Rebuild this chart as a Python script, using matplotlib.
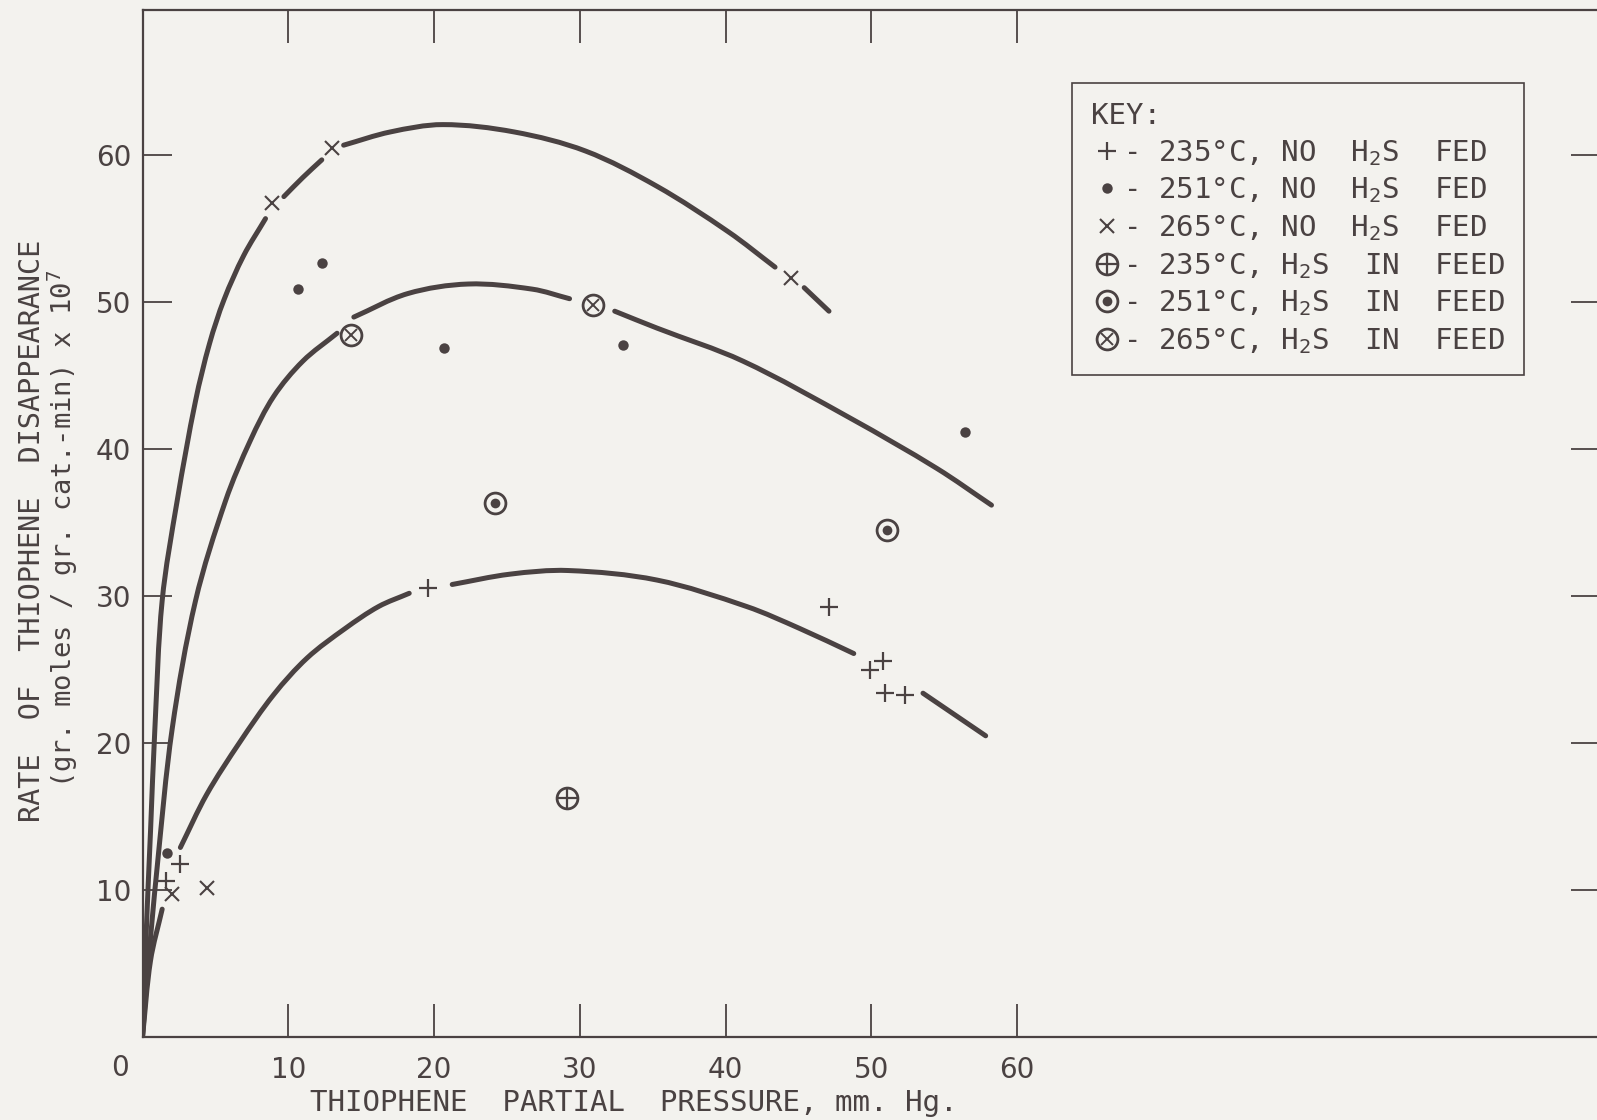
import numpy as np
import matplotlib
matplotlib.use('Agg')
import matplotlib.pyplot as plt
from matplotlib.lines import Line2D
from matplotlib.path import Path
from matplotlib.patches import PathPatch

ink = '#4a4242'
paper = '#f3f2ee'

# measured rates (x 10^7) against thiophene partial pressure, mm Hg
plus_x = [1.58, 2.6, 19.56, 47.1, 49.9, 50.8, 50.95, 52.3]
plus_y = [10.6, 11.8, 30.57, 29.3, 25.0, 25.6, 23.4, 23.3]
dot_x = [1.69, 10.7, 12.3, 20.7, 33.0, 56.4]
dot_y = [12.5, 50.9, 52.7, 46.9, 47.1, 41.2]
cross_x = [2.04, 4.44, 8.9, 13.0, 44.5]
cross_y = [9.7, 10.15, 56.75, 60.5, 51.65]
oplus_x = [29.1]
oplus_y = [16.3]
odot_x = [24.2, 51.1]
odot_y = [36.35, 34.5]
otimes_x = [14.3, 30.9]
otimes_y = [47.75, 49.8]

# hand-drawn curves; None where the pen lifts around a point
top_x = [0, 0.25, 0.55, 0.85, 1.35, 2.38, 3.64, 4.6, 5.6, 6.95, 8.44, None,
         9.7, 11.0, 12.3, None,
         13.8, 17.0, 20.6, 25.5, 30.4, 35.3, 40.2, 43.4, None,
         45.4, 47.1]
top_y = [0, 7.0, 14.0, 21.0, 29.7, 36.5, 43.3, 47.2, 50.2, 53.2, 55.7, None,
         57.2, 58.5, 59.7, None,
         60.7, 61.6, 62.1, 61.6, 60.3, 57.9, 54.8, 52.4, None,
         51.0, 49.4]
mid_x = [0, 0.35, 1.0, 2.04, 3.64, 5.7, 7.4, 9.0, 11.0, 13.35, None,
         14.5, 18.2, 22.35, 26.75, 29.3, None,
         32.4, 35.3, 41.2, 48.6, 54.5, 58.25]
mid_y = [0, 4.5, 11.5, 21.0, 29.7, 36.5, 40.6, 43.6, 46.0, 47.9, None,
         49.0, 50.6, 51.25, 50.9, 50.25, None,
         49.4, 48.25, 46.0, 42.1, 38.7, 36.2]
low_x = [0, 0.55, 1.35, None,
         2.6, 4.4, 6.7, 9.0, 11.3, 13.9, 16.2, 18.3, None,
         21.25, 25.2, 29.2, 35.3, 41.45, 45.1, 48.8, None,
         53.55, 57.85]
low_y = [0, 5.2, 8.7, None,
         12.9, 16.5, 20.1, 23.3, 25.8, 27.8, 29.3, 30.2, None,
         30.8, 31.5, 31.75, 31.1, 29.3, 27.8, 26.1, None,
         23.4, 20.5]

ticks = [10, 20, 30, 40, 50, 60]

labels = ['- 235°C, NO  H$_2$S  FED',
          '- 251°C, NO  H$_2$S  FED',
          '- 265°C, NO  H$_2$S  FED',
          '- 235°C, H$_2$S  IN  FEED',
          '- 251°C, H$_2$S  IN  FEED',
          '- 265°C, H$_2$S  IN  FEED']

plt.rcParams['font.family'] = ['DejaVu Sans']
plt.rcParams['mathtext.fontset'] = 'custom'
plt.rcParams['mathtext.rm'] = 'DejaVu Sans Mono'
plt.rcParams['mathtext.default'] = 'regular'
lettering = 'DejaVu Sans Mono'


def curve_path(xs, ys):
    # smooth stroke through the read points, one sub-path per pen stroke
    verts, codes = [], []
    seg = []
    for x, y in list(zip(xs, ys)) + [(None, None)]:
        if x is not None:
            seg.append((x, y))
            continue
        p = np.array(seg, dtype=float)
        n = len(p)
        t = np.array([p[min(i + 1, n - 1)] - p[max(i - 1, 0)] for i in range(n)])
        t /= np.hypot(t[:, 0], t[:, 1])[:, None]
        verts.append(p[0])
        codes.append(Path.MOVETO)
        for i in range(n - 1):
            d = np.hypot(*(p[i + 1] - p[i])) / 3
            verts += [p[i] + t[i] * d, p[i + 1] - t[i + 1] * d, p[i + 1]]
            codes += [Path.CURVE4] * 3
        seg = []
    return Path(verts, codes)


W, H = 1597, 1120
fig = plt.figure(figsize=(W / 100, H / 100), dpi=100, facecolor=paper)
ax = fig.add_axes([142.5 / W, (H - 1037) / H, (1600 - 142.5) / W, (1037 - 10) / H])
ax.set_facecolor(paper)
ax.set_xlim(0, 100)
ax.set_ylim(0, 69.9)

for cx, cy in [(top_x, top_y), (mid_x, mid_y), (low_x, low_y)]:
    ax.add_patch(PathPatch(curve_path(cx, cy), fill=False, ec=ink, lw=3.6,
                           capstyle='round', zorder=2))

plus_kw = dict(marker='+', ms=13, mew=1.6, color=ink, ls='none')
dot_kw = dict(marker='o', ms=7.5, mew=0, color=ink, ls='none')
cross_kw = dict(marker='x', ms=10, mew=1.5, color=ink, ls='none')
ring_kw = dict(marker='o', ms=15, mew=2.0, mfc='none', mec=ink, ls='none')
inner_plus = dict(marker='+', ms=15, mew=1.6, color=ink, ls='none')
inner_dot = dict(marker='o', ms=7, mew=0, color=ink, ls='none')
inner_x = dict(marker='x', ms=8, mew=1.4, color=ink, ls='none')

ax.plot(plus_x, plus_y, zorder=3, **plus_kw)
ax.plot(dot_x, dot_y, zorder=3, **dot_kw)
ax.plot(cross_x, cross_y, zorder=3, **cross_kw)
for px, py, inner in [(oplus_x, oplus_y, inner_plus),
                      (odot_x, odot_y, inner_dot),
                      (otimes_x, otimes_y, inner_x)]:
    ax.plot(px, py, zorder=3, **ring_kw)
    ax.plot(px, py, zorder=3, **inner)

handles = [Line2D([], [], **plus_kw),
           Line2D([], [], **dot_kw),
           Line2D([], [], **cross_kw),
           (Line2D([], [], **ring_kw), Line2D([], [], **inner_plus)),
           (Line2D([], [], **ring_kw), Line2D([], [], **inner_dot)),
           (Line2D([], [], **ring_kw), Line2D([], [], **inner_x))]
leg = ax.legend(handles, labels, title='KEY:',
                prop={'family': lettering, 'size': 21},
                title_fontproperties={'family': lettering, 'size': 21},
                loc='upper left', bbox_to_anchor=(0.638, 0.929), borderaxespad=0,
                frameon=True, fancybox=False, edgecolor=ink, facecolor=paper,
                framealpha=1, labelcolor=ink, alignment='left',
                handlelength=1.1, handletextpad=-0.02, labelspacing=0.27,
                borderpad=0.65)
leg.get_frame().set_linewidth(1.2)
leg.get_title().set_color(ink)

ax.set_xticks(ticks)
ax.set_yticks(ticks)
ax.set_xticklabels([str(t) for t in ticks])
ax.set_yticklabels([str(t) for t in ticks])
ax.tick_params(direction='in', width=1.3, color=ink,
               top=True, right=True, labelsize=20, labelcolor=ink)
ax.tick_params(axis='x', pad=14, length=24)
ax.tick_params(axis='y', pad=8, length=21)
for side in ['left', 'bottom', 'top']:
    ax.spines[side].set_color(ink)
    ax.spines[side].set_linewidth(1.6)
ax.spines['right'].set_visible(False)

ax.annotate('0', xy=(0, 0), xytext=(-16, -22), textcoords='offset points',
            ha='center', va='center', fontsize=20, color=ink)

fig.text(633.5 / W, 1 - 1103 / H, 'THIOPHENE  PARTIAL  PRESSURE, mm. Hg.',
         ha='center', va='center', fontsize=21, color=ink, family=lettering)
fig.text(32.5 / W, 1 - 531 / H, 'RATE  OF  THIOPHENE  DISAPPEARANCE',
         rotation=90, ha='center', va='center', fontsize=20.5, color=ink,
         family=lettering)
fig.text(62.5 / W, 1 - 529 / H, '(gr. moles / gr. cat.-min) x 10$^7$',
         rotation=90, ha='center', va='center', fontsize=19.5, color=ink,
         family=lettering)

fig.savefig('out.png', dpi=100, facecolor=paper)
